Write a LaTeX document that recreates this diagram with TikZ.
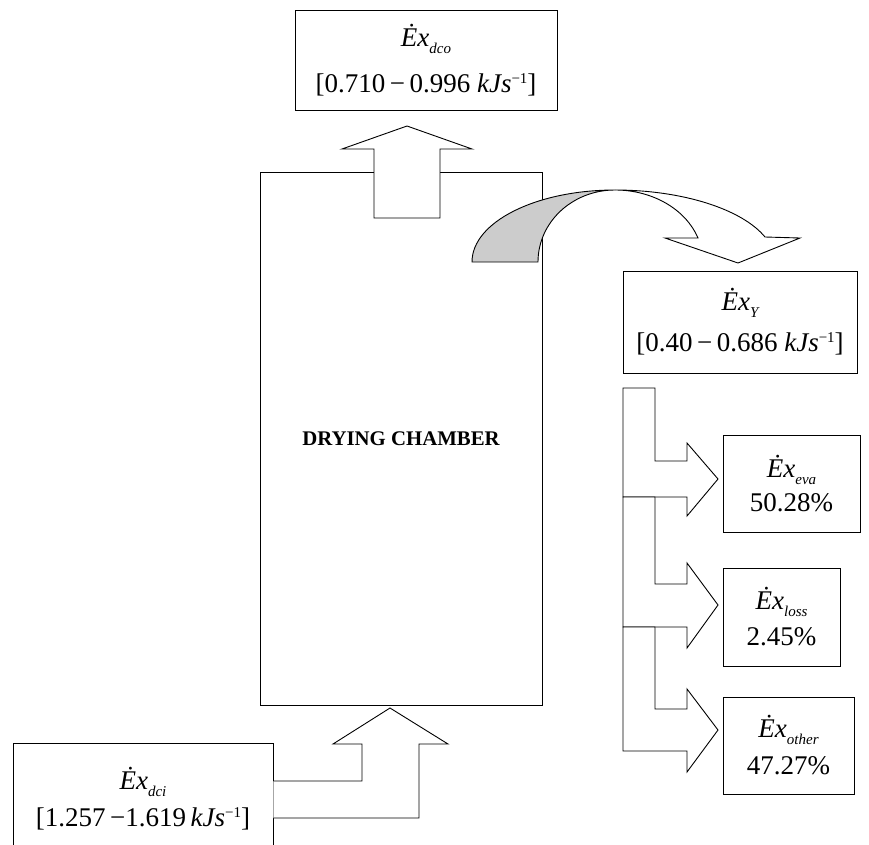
\documentclass[tikz,border=0pt]{standalone}
\usepackage{fontspec}
\setmainfont{Liberation Serif}
\usetikzlibrary{positioning}

\newcommand{\Ex}[1]{{\itshape\.Ex}\raisebox{-0.55ex}{\fontsize{15}{15}\selectfont\itshape #1}}
\newcommand{\kJs}{{\itshape kJs}\raisebox{0.75ex}{\fontsize{15}{15}\selectfont −1}}

\begin{document}
\begin{tikzpicture}[x=1pt, y=-1pt, line width=0.9pt,
  every node/.style = {font=\fontsize{27}{31}\selectfont},
  databox/.style    = {draw, align=center, inner sep=0pt},
  blockarrow/.style = {draw, fill=white, line join=miter},
  swirl/.style      = {draw, fill=black!20}
]
\useasboundingbox (0,0) rectangle (869,844);

% chamber and the boxes round it
\node[databox, minimum width=282pt, minimum height=533pt,
      font=\fontsize{20.8}{24}\selectfont\bfseries] (chamber) at (401,438.5) {DRYING CHAMBER};
\node[databox, minimum width=262pt, minimum height=100pt] (dco) at (426,60)
  {\Ex{dco}\\[15pt]{[}0.710\,−\,0.996~\kJs{]}};
\node[databox, minimum width=234pt, minimum height=102pt] (exy) at (740,322)
  {\Ex{Y}\\[10pt]{[}0.40\,−\,0.686~\kJs{]}};
\node[databox, minimum width=137pt, minimum height=97pt] (eva) at (791.5,483.5)
  {\Ex{eva}\\[3pt]50.28\%};
\node[databox, minimum width=117pt, minimum height=98pt] (loss) at (781.5,617)
  {\Ex{loss}\\[5pt]2.45\%};
\node[databox, minimum width=131pt, minimum height=97pt] (other) at (788.5,745.5)
  {\Ex{other}\\[6pt]47.27\%};
\node[databox, minimum width=260pt, minimum height=137pt] (dci) at (143,811.5) {};
\node[align=center] (dcitext) at (143,799) {\Ex{dci}\\[6pt]{[}1.257\,−1.619\,\kJs{]}};

% outlet arrow through the chamber top
\draw[blockarrow] (374,218) -- (374,149) -- (342,149) -- (407,126)
  -- (472,149) -- (440,149) -- (440,218) -- cycle;

% curved arrow to the Y box
\draw[swirl] (472,262) .. controls (472,222) and (536,190) .. (615,190)
  .. controls (572.5,190) and (538,222) .. (538,262) -- cycle;
\draw[blockarrow] (615,190) .. controls (682,190) and (742,209) .. (765,237)
  -- (800,238) -- (738,263) -- (665,238) -- (698,238)
  .. controls (685.6,209) and (652.3,190) .. (615,190) -- cycle;

% split arrows
\foreach \t/\u/\l/\h/\m/\b in {388/461/497/443/479/516,
                               497/584/627/563/605/648,
                               627/709/751/689/730/772}
  \draw[blockarrow] (623,\l) -- (623,\t) -- (655,\t) -- (655,\u) -- (687,\u)
    -- (687,\h) -- (718,\m) -- (687,\b) -- (687,\l) -- cycle;

% inlet arrow
\draw[blockarrow] (dci.east |- 0,781) -- (362,781) -- (362,744) -- (333,744)
  -- (390,708) -- (448,744) -- (419,744) -- (419,818) -- (dci.east |- 0,818);
\end{tikzpicture}
\end{document}
